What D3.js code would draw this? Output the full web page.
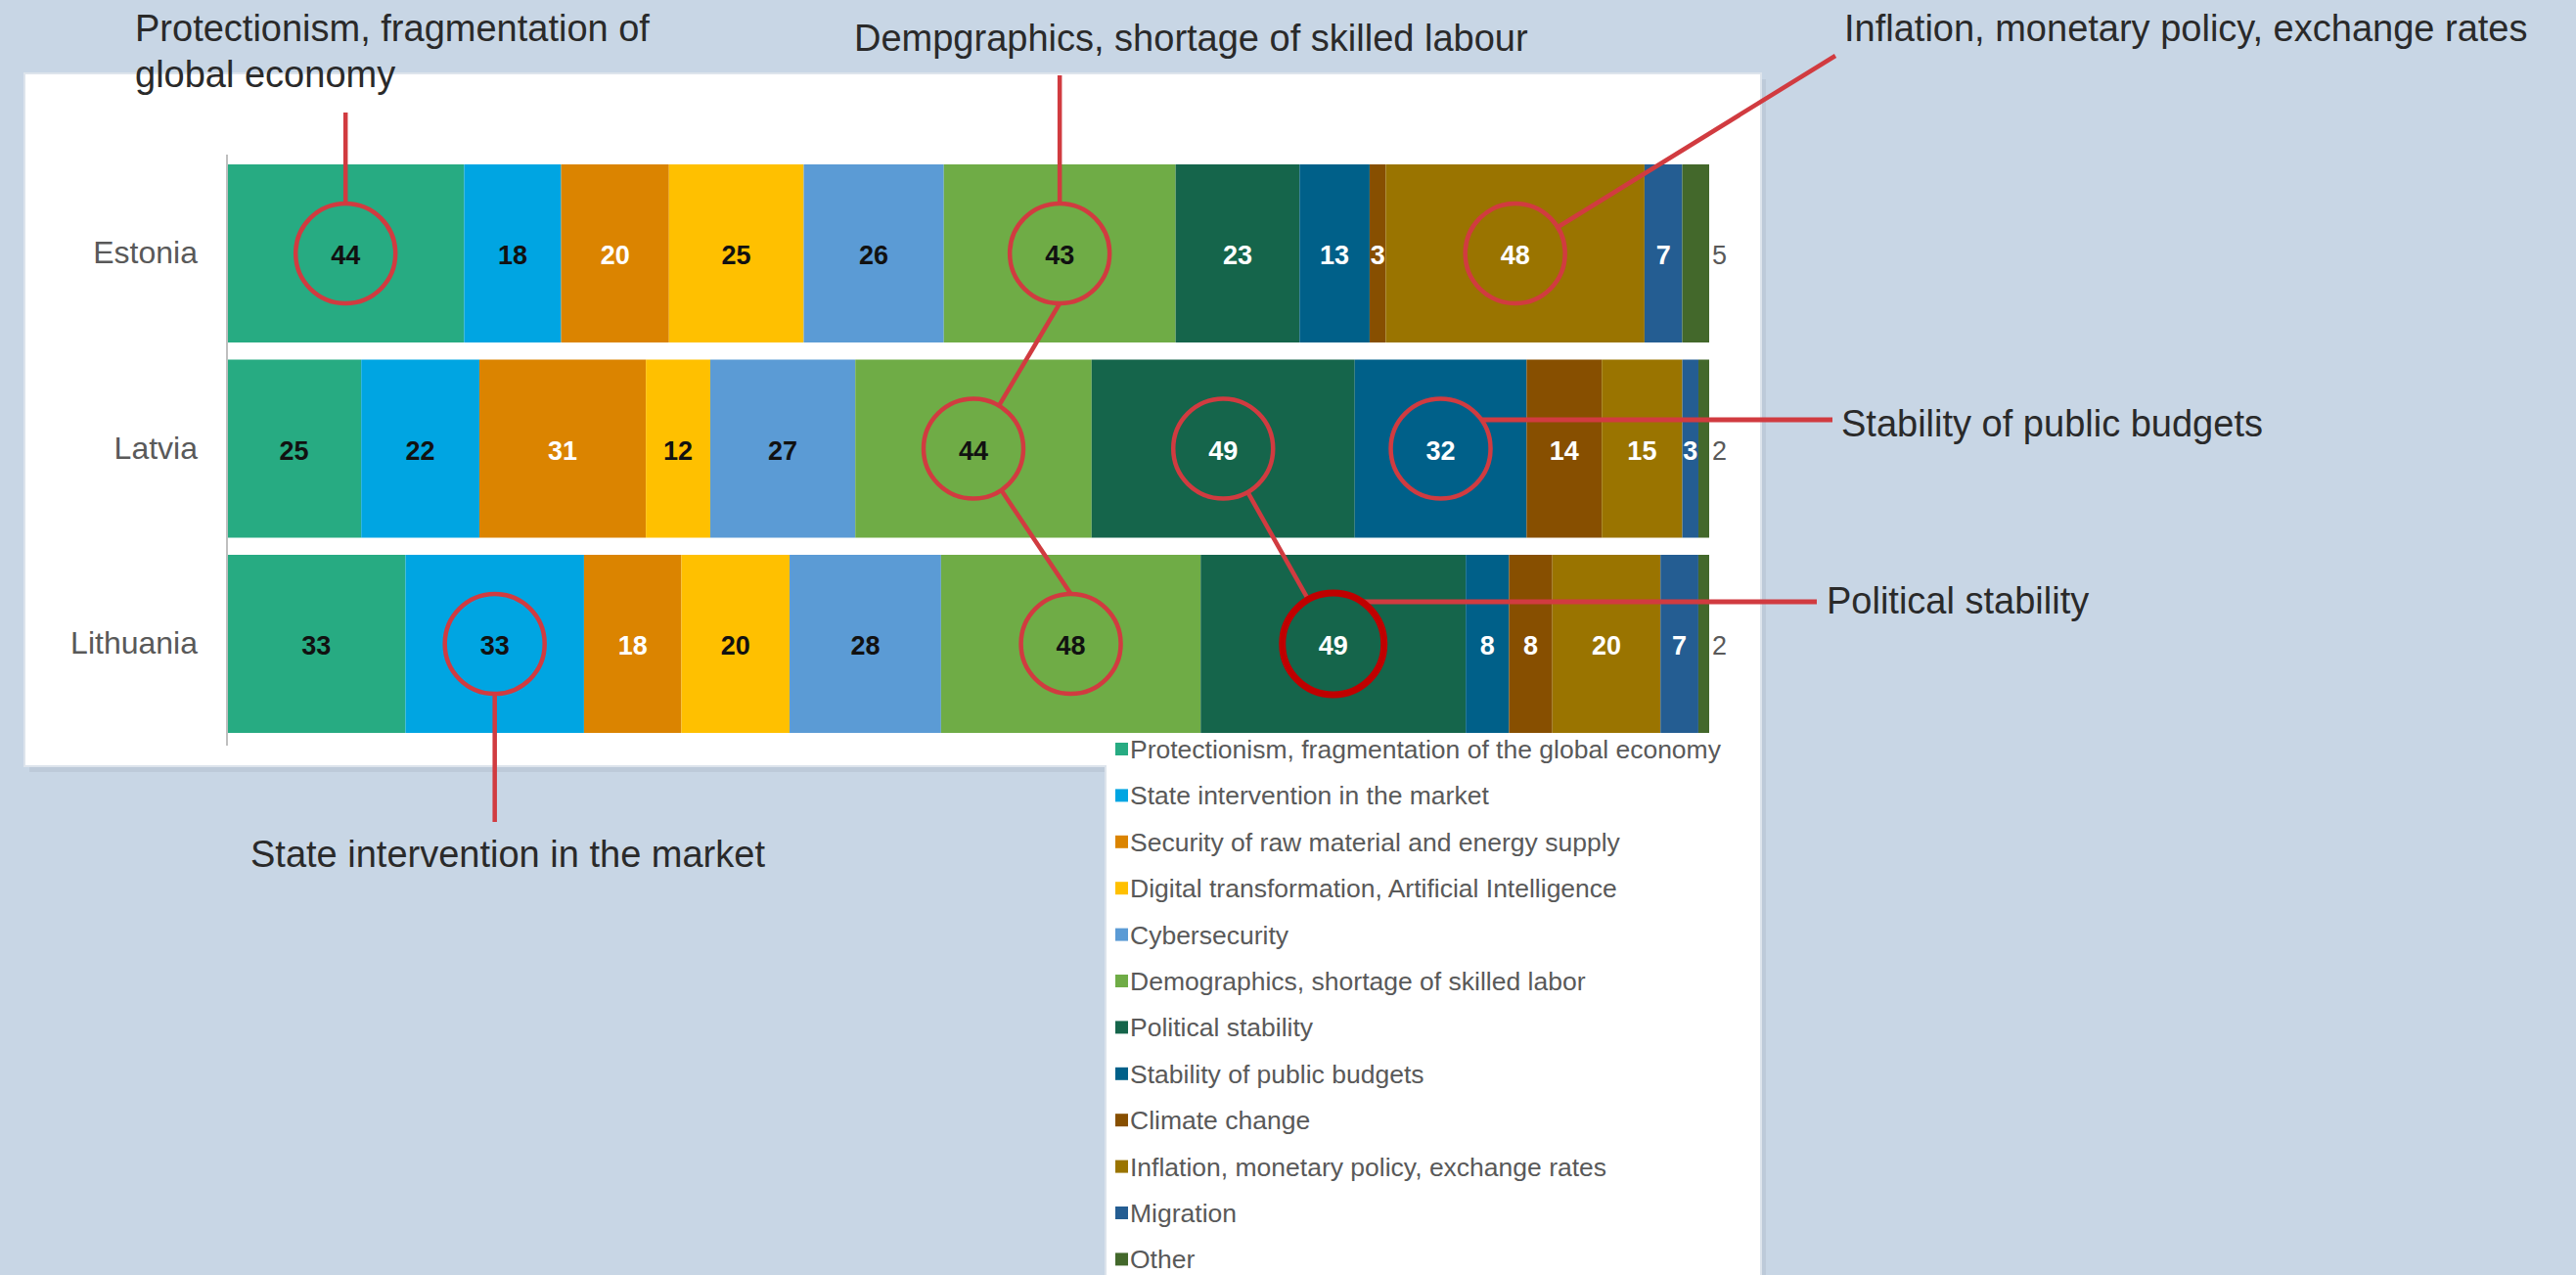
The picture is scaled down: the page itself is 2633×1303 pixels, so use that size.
<!DOCTYPE html>
<html><head><meta charset="utf-8">
<script src="https://cdn.jsdelivr.net/npm/d3@7"></script>
<style>html,body{margin:0;padding:0;background:#c8d6e5;} svg{display:block}</style>
</head><body>
<svg id="chart" width="2633" height="1303"></svg>
<script>
// ---------- data ----------
const categories = ["Estonia", "Latvia", "Lithuania"];
const seriesNames = [
  "Protectionism, fragmentation of the global economy",
  "State intervention in the market",
  "Security of raw material and energy supply",
  "Digital transformation, Artificial Intelligence",
  "Cybersecurity",
  "Demographics, shortage of skilled labor",
  "Political stability",
  "Stability of public budgets",
  "Climate change",
  "Inflation, monetary policy, exchange rates",
  "Migration",
  "Other"
];
const estoniaValues   = [44, 18, 20, 25, 26, 43, 23, 13, 3, 48, 7, 5];
const latviaValues    = [25, 22, 31, 12, 27, 44, 49, 32, 14, 15, 3, 2];
const lithuaniaValues = [33, 33, 18, 20, 28, 48, 49, 8, 8, 20, 7, 2];
const countryValues = [estoniaValues, latviaValues, lithuaniaValues];

const seriesColors = ["#27ab82", "#00a5e2", "#db8400", "#ffc000", "#5b9bd5", "#6fac46",
                      "#15654b", "#006089", "#874f00", "#9a7400", "#245d92", "#43682b"];
const labelColors  = ["#111", "#111", "#fff", "#111", "#111", "#111",
                      "#fff", "#fff", "#fff", "#fff", "#fff", "#595959"];

const annotationLabels = [
  ["Protectionism, fragmentation of", "global economy"],
  ["Dempgraphics, shortage of skilled labour"],
  ["Inflation, monetary policy, exchange rates"],
  ["Stability of public budgets"],
  ["Political stability"],
  ["State intervention in the market"]
];

// ---------- layout ----------
const svg = d3.select("#chart");
const FONT = "'Liberation Sans', Arial, sans-serif";
const RED = "#d13b40";

// background panel (chart + legend extension)
const panelPath = "M25,75 L1800,75 L1800,1320 L1130,1320 L1130,783 L25,783 Z";
svg.append("path").attr("d", panelPath).attr("transform", "translate(5,6)")
  .attr("fill", "#b8c5d4").attr("opacity", 0.7);
svg.append("path").attr("d", panelPath).attr("fill", "#fff")
  .attr("stroke", "#dde4ec").attr("stroke-width", 2);

// table for stacking
const table = categories.map((c, i) => {
  const row = {category: c};
  seriesNames.forEach((s, j) => row[s] = countryValues[i][j]);
  return row;
});
const stacked = d3.stack().keys(seriesNames).offset(d3.stackOffsetExpand)(table);

const x = d3.scaleLinear().domain([0, 1]).range([232, 1747]);
const y = d3.scaleBand().domain(categories).range([159.25, 757.75]).paddingInner(0.0877).paddingOuter(0.04385);
const color = d3.scaleOrdinal().domain(seriesNames).range(seriesColors);

// bars
const layers = svg.append("g").selectAll("g").data(stacked).join("g")
  .attr("fill", d => color(d.key));
layers.selectAll("rect").data(d => d.map(v => ({v, key: d.key}))).join("rect")
  .attr("x", d => x(d.v[0]))
  .attr("y", d => y(d.v.data.category))
  .attr("width", d => x(d.v[1]) - x(d.v[0]))
  .attr("height", y.bandwidth());

// axis line
const yAxis = d3.axisLeft(y).tickSize(0).tickPadding(30);
const ag = svg.append("g").attr("transform", `translate(${x(0)},0)`).call(yAxis);
ag.select(".domain").attr("stroke", "#bfbfbf").attr("stroke-width", 2)
  .attr("d", `M0,158V762`);
ag.selectAll("text").attr("font-family", FONT).attr("font-size", 32).attr("fill", "#595959");

// value labels
stacked.forEach((layer, j) => {
  svg.append("g").selectAll("text").data(layer).join("text")
    .attr("x", d => j === seriesNames.length - 1 ? x(d[1]) + 3 : x((d[0] + d[1]) / 2))
    .attr("y", d => y(d.data.category) + y.bandwidth() / 2 + 2)
    .attr("text-anchor", j === seriesNames.length - 1 ? "start" : "middle")
    .attr("dominant-baseline", "central")
    .attr("font-family", FONT).attr("font-size", 27)
    .attr("font-weight", j === seriesNames.length - 1 ? "normal" : "bold")
    .attr("fill", labelColors[j])
    .text(d => d.data[layer.key]);
});

// legend
const legend = svg.append("g").selectAll("g").data(seriesNames).join("g")
  .attr("transform", (d, i) => `translate(1140,${766 + i * 47.4})`);
legend.append("rect").attr("x", 0).attr("y", -7).attr("width", 13).attr("height", 13)
  .attr("fill", d => color(d));
legend.append("text").attr("x", 15).attr("y", 0).attr("dominant-baseline", "central")
  .attr("font-family", FONT).attr("font-size", 26.5).attr("fill", "#595959").text(d => d);

// ---------- annotations ----------
const R = 51;
function center(cat, si) {
  const d = stacked[si].find(v => v.data.category === cat);
  return {x: x((d[0] + d[1]) / 2), y: y(cat) + y.bandwidth() / 2};
}
function toward(c, p, r) {
  const dx = p.x - c.x, dy = p.y - c.y, l = Math.hypot(dx, dy);
  return {x: c.x + dx / l * r, y: c.y + dy / l * r};
}
const ann = svg.append("g");
function line(a, b, w) {
  ann.append("line").attr("x1", a.x).attr("y1", a.y).attr("x2", b.x).attr("y2", b.y)
    .attr("stroke", RED).attr("stroke-width", w || 4.5).attr("stroke-linecap", "butt");
}
function circle(c, thick) {
  ann.append("circle").attr("cx", c.x).attr("cy", c.y).attr("r", thick ? 52 : R)
    .attr("fill", "none").attr("stroke", thick ? "#c00000" : RED).attr("stroke-width", thick ? 7 : 4.5);
}
function label(lines, x0, y0, dy) {
  lines.forEach((t, i) => ann.append("text").attr("x", x0).attr("y", y0 + i * (dy || 0))
    .attr("font-family", FONT).attr("font-size", 38).attr("fill", "#2a2a2a").text(t));
}

// 1 Protectionism
const c1 = center("Estonia", 0);
line({x: c1.x, y: 115}, {x: c1.x, y: c1.y - R});
circle(c1);
label(annotationLabels[0], 138, 42, 47);

// 2 Demographics chain
const c2a = center("Estonia", 5), c2b = center("Latvia", 5), c2c = center("Lithuania", 5);
line({x: c2a.x, y: 77}, {x: c2a.x, y: c2a.y - R});
const s2 = {x: c2a.x, y: c2a.y + R};
line(s2, toward(c2b, s2, R));
const e2 = {x: c2c.x, y: c2c.y - R};
line(toward(c2b, e2, R), e2);
[c2a, c2b, c2c].forEach(c => circle(c));
label(annotationLabels[1], 873, 52);

// 3 Inflation
const c3 = center("Estonia", 9);
const p3 = {x: 1876, y: 57};
line(toward(c3, p3, R), p3);
circle(c3);
label(annotationLabels[2], 1885, 42);

// 4 Stability of public budgets
const c4 = center("Latvia", 7);
const y4 = 429;
line({x: c4.x + Math.sqrt(R * R - (y4 - c4.y) ** 2), y: y4}, {x: 1873, y: y4}, 5);
circle(c4);
label(annotationLabels[3], 1882, 446);

// 5 Political stability
const c5a = center("Latvia", 6), c5b = center("Lithuania", 6);
line(toward(c5a, c5b, R), toward(c5b, c5a, 52));
const y5 = 615;
line({x: c5b.x + Math.sqrt(52 * 52 - (y5 - c5b.y) ** 2), y: y5}, {x: 1857, y: y5}, 5);
circle(c5a);
circle(c5b, true);
label(annotationLabels[4], 1867, 627);

// 6 State intervention
const c6 = center("Lithuania", 1);
line({x: c6.x, y: c6.y + R}, {x: c6.x, y: 840});
circle(c6);
label(annotationLabels[5], 256, 886);
</script>
</body></html>
